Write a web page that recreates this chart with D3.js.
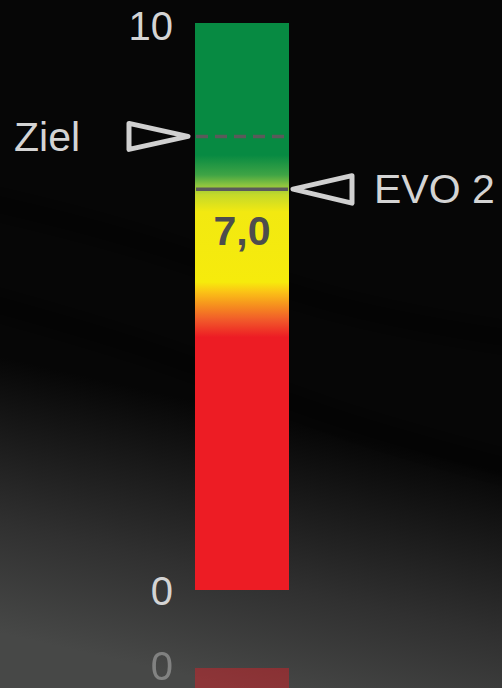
<!DOCTYPE html>
<html>
<head>
<meta charset="utf-8">
<script src="https://cdn.jsdelivr.net/npm/d3@7"></script>
<style>
  html, body { margin: 0; padding: 0; background: #000; }
  svg { display: block; }
  text { font-family: "Liberation Sans", Arial, sans-serif; }
</style>
</head>
<body>
<svg id="chart" width="502" height="688"></svg>
<script>
// ---- data ----
const tickValues = [0, 10];
const tickLabels = ["0", "10"];
const markerNames = ["Ziel", "EVO 2"];
const markerValues = [8.0, 7.07];
const markerSides = ["left", "right"];
const markerStyles = ["dashed", "solid"];
const valueLabels = ["7,0"];          // label shown for EVO 2
const zoneValues = [10, 7.67, 7.32, 7.14, 6.97, 6.67, 5.43, 5.26, 5.03, 4.76, 4.46, 0];
const zoneColors = ["#078a42", "#078a42", "#3fa445", "#8cc43f", "#c4d92a", "#f2e911",
                    "#f6eb0c", "#fbc316", "#f6921e", "#f1592a", "#ed1c24", "#ed1c24"];

const W = 502, H = 688;
const svg = d3.select("#chart");
const defs = svg.append("defs");

// ---- background ----
const bg = defs.append("linearGradient").attr("id", "bg")
  .attr("gradientUnits", "userSpaceOnUse")
  .attr("x1", 300).attr("y1", 425).attr("x2", 240).attr("y2", 688);
[[0, "#060606"], [0.3, "#1b1b1b"], [0.6, "#303030"], [1, "#474847"]]
  .forEach(([o, c]) => bg.append("stop").attr("offset", o).attr("stop-color", c));
svg.append("rect").attr("width", W).attr("height", H).attr("fill", "url(#bg)");

const blur = defs.append("filter").attr("id", "blur").attr("x", "-20%").attr("y", "-50%")
  .attr("width", "140%").attr("height", "200%");
blur.append("feGaussianBlur").attr("stdDeviation", 9);
const waves = [
  [[-20, 200], [150, 240], [330, 310], [520, 340]],
  [[-20, 300], [160, 350], [330, 420], [520, 470]]
];
const wl = d3.line().curve(d3.curveBasis);
svg.append("g").attr("filter", "url(#blur)")
  .selectAll("path").data(waves).join("path")
  .attr("d", d => wl(d))
  .attr("fill", "none").attr("stroke", "#000").attr("stroke-width", 20).attr("opacity", 0.45);

// ---- scales ----
const y = d3.scaleLinear().domain([0, 10]).range([590, 23]);
const barX = 195, barW = 94;

// gradient for the bar
const g = defs.append("linearGradient").attr("id", "barGrad")
  .attr("gradientUnits", "userSpaceOnUse")
  .attr("x1", 0).attr("x2", 0).attr("y1", y(10)).attr("y2", y(0));
zoneValues.forEach((v, i) => g.append("stop")
  .attr("offset", (y(v) - y(10)) / (y(0) - y(10)))
  .attr("stop-color", zoneColors[i]));

// ---- reflection ----
const mirror = y(0) + 39;
const refl = svg.append("g").attr("opacity", 0.42);
refl.append("g")
  .attr("transform", `translate(0,${2 * mirror}) scale(1,-1)`)
  .append("rect").attr("x", barX).attr("width", barW)
  .attr("y", y(10)).attr("height", y(0) - y(10)).attr("fill", "url(#barGrad)");
refl.append("text")
  .attr("x", 173).attr("y", 2 * mirror - y(0)).attr("dy", "0.29em")
  .attr("text-anchor", "end").attr("font-size", 40).attr("fill", "#d4d4d4")
  .text(tickLabels[0]);

// ---- bar ----
svg.append("rect")
  .attr("x", barX).attr("width", barW)
  .attr("y", y(10)).attr("height", y(0) - y(10))
  .attr("fill", "url(#barGrad)");

// ---- tick labels ----
svg.selectAll("text.tick").data(tickValues).join("text")
  .attr("class", "tick")
  .attr("x", 173).attr("y", d => y(d))
  .attr("dy", (d, i) => i === 1 ? "0.42em" : "0.38em")
  .attr("text-anchor", "end").attr("font-size", 40).attr("fill", "#d4d4d4")
  .text((d, i) => tickLabels[i]);

// ---- markers ----
const markers = markerNames.map((n, i) => ({ name: n, value: markerValues[i], side: markerSides[i], style: markerStyles[i] }));
const tri = d3.line();

markers.forEach(m => {
  const yy = y(m.value);
  svg.append("line")
    .attr("x1", barX + 1).attr("x2", barX + barW - 1)
    .attr("y1", yy).attr("y2", yy)
    .attr("stroke", "#5a5a5a").attr("stroke-width", 3.5)
    .attr("stroke-dasharray", m.style === "dashed" ? "12 7" : null);
  if (m.side === "left") {
    svg.append("path")
      .attr("d", tri([[129, yy - 13], [188, yy], [129, yy + 13]]) + "Z")
      .attr("fill", "none").attr("stroke", "#d0d0d0").attr("stroke-width", 5)
      .attr("stroke-linejoin", "round");
    svg.append("text")
      .attr("x", 14).attr("y", yy + 15)
      .attr("font-size", 41).attr("fill", "#d4d4d4")
      .text(m.name);
  } else {
    svg.append("path")
      .attr("d", tri([[352, yy - 13.5], [293, yy], [352, yy + 14]]) + "Z")
      .attr("fill", "none").attr("stroke", "#d0d0d0").attr("stroke-width", 5)
      .attr("stroke-linejoin", "round");
    svg.append("text")
      .attr("x", 374).attr("y", yy + 14)
      .attr("font-size", 41).attr("fill", "#d4d4d4")
      .text(m.name);
    svg.append("text")
      .attr("x", barX + barW / 2).attr("y", yy + 56)
      .attr("text-anchor", "middle")
      .attr("font-size", 41).attr("font-weight", "bold").attr("fill", "#4d4d4d")
      .text(valueLabels[0]);
  }
});
</script>
</body>
</html>
